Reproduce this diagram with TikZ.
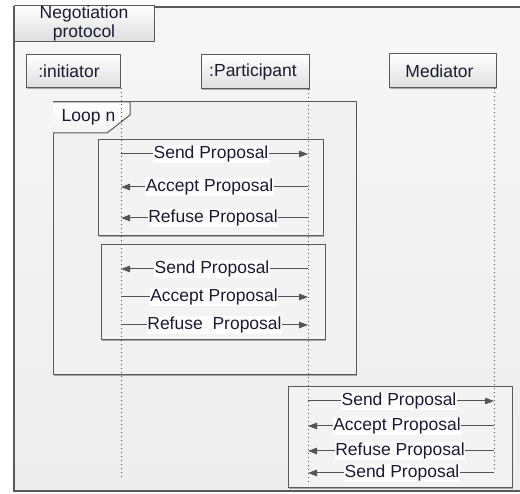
\documentclass[tikz,border=0pt]{standalone}
\usepackage{fontspec}
\setmainfont{Liberation Sans}
\usetikzlibrary{arrows.meta,shadows}
\definecolor{framec}{HTML}{5A5A5A}
\definecolor{bgtop}{HTML}{F7F7F7}
\definecolor{bgbot}{HTML}{EDEDED}
\definecolor{fragc}{HTML}{F3F3F3}
\definecolor{txt}{HTML}{1A1A33}
\definecolor{linec}{HTML}{555555}
\definecolor{hdrbot}{HTML}{DEDEDE}
\begin{document}
\begin{tikzpicture}[x=1pt,y=-1pt,
  font=\fontsize{17.5}{19}\selectfont,
  shad/.style={drop shadow={shadow xshift=1.3pt,shadow yshift=-1.3pt,opacity=0.3,fill=black}},
  hdr/.style={draw=framec, line width=1pt, top color=white, bottom color=hdrbot, shad, inner sep=0pt, text=txt},
  frag/.style={draw=framec, line width=1pt, fill=fragc, shad, inner sep=0pt},
  life/.style={draw=gray!60!black, line width=1pt, dash pattern=on 1.5pt off 2.5pt},
  msg/.style={draw=linec, line width=1pt},
  arr/.style={msg, -{Triangle[length=9pt,width=6.5pt]}},
  lbl/.style={fill=white, inner sep=0.6pt, text=txt}
]
\useasboundingbox (0,0) rectangle (520,494);
\clip (0,0) rectangle (520,494);
\fill[white] (0,0) rectangle (520,494);
% outer frame
\node[draw=framec, line width=1.2pt, top color=bgtop, bottom color=bgbot, inner sep=0pt,
      minimum width=516pt, minimum height=484pt] (frame) at (272,249) {};
\node[hdr, minimum width=140pt, minimum height=33pt, align=center] (title) at (84,23.5) {Negotiation\\protocol};
% loop frame
\node[draw=framec, line width=1pt, fill=bgbot!60!bgtop, shad, inner sep=0pt,
      minimum width=303pt, minimum height=273pt] (loop) at (204.5,238.5) {};
\filldraw[draw=framec, line width=1pt, top color=white, bottom color=fragc]
  (53,102) -- (130,102) -- (130,115) -- (107,133) -- (53,133);
\node[text=txt] (looplbl) at (88.5,117) {Loop n};
% fragments
\node[frag, minimum width=225pt, minimum height=96pt] (f1) at (210.5,188) {};
\node[frag, minimum width=224pt, minimum height=95pt] (f2) at (213,292.5) {};
\node[frag, minimum width=224pt, minimum height=101pt] (f3) at (400,437.5) {};
% lifelines
\coordinate (itop) at (121,88);  \coordinate (iend) at (121,478);
\coordinate (ptop) at (308,89);  \coordinate (pend) at (308,484);
\coordinate (mtop) at (494,88);  \coordinate (mend) at (494,470);
\draw[life] (itop) -- (iend);
\draw[life] (ptop) -- (pend);
\draw[life] (mtop) -- (mend);
% header boxes
\node[hdr, minimum width=94pt, minimum height=33pt] (init) at (73,71.5) {\hspace*{-8pt}:initiator};
\node[hdr, minimum width=108pt, minimum height=34pt] (part) at (255,72) {\hspace*{-4pt}:Participant};
\node[hdr, minimum width=107pt, minimum height=34pt] (med) at (442.5,71) {\hspace*{-6pt}Mediator};
% fragment 1
\coordinate (a1) at (121,154); \coordinate (b1) at (308,154);
\coordinate (a2) at (121,187); \coordinate (b2) at (308,187);
\coordinate (a3) at (121,218); \coordinate (b3) at (308,218);
\draw[arr] (a1) -- (b1);
\draw[arr] (b2) -- (a2);
\draw[arr] (b3) -- (a3);
\node[lbl] (l1) at (211,154) {Send Proposal};
\node[lbl] (l2) at (209.5,187) {Accept Proposal};
\node[lbl] (l3) at (213,218) {Refuse Proposal};
% fragment 2
\coordinate (a4) at (121,269); \coordinate (b4) at (308,269);
\coordinate (a5) at (121,297); \coordinate (b5) at (308,297);
\coordinate (a6) at (121,325); \coordinate (b6) at (308,325);
\draw[arr] (b4) -- (a4);
\draw[arr] (a5) -- (b5);
\draw[arr] (a6) -- (b6);
\node[lbl] (l4) at (212,269) {Send Proposal};
\node[lbl] (l5) at (214,297) {Accept Proposal};
\node[lbl] (l6) at (214.5,325) {Refuse\ \ Proposal};
% fragment 3
\coordinate (a7) at (308,401); \coordinate (b7) at (494,401);
\coordinate (a8) at (308,426); \coordinate (b8) at (494,426);
\coordinate (a9) at (308,451); \coordinate (b9) at (494,451);
\coordinate (a10) at (308,473); \coordinate (b10) at (494,473);
\draw[arr] (a7) -- (b7);
\draw[arr] (b8) -- (a8);
\draw[arr] (b9) -- (a9);
\draw[arr] (b10) -- (a10);
\node[lbl] (l7) at (399,401) {Send Proposal};
\node[lbl] (l8) at (397,426) {Accept Proposal};
\node[lbl] (l9) at (400,451) {Refuse Proposal};
\node[lbl] (l10) at (402,473) {Send Proposal};
\end{tikzpicture}
\end{document}
